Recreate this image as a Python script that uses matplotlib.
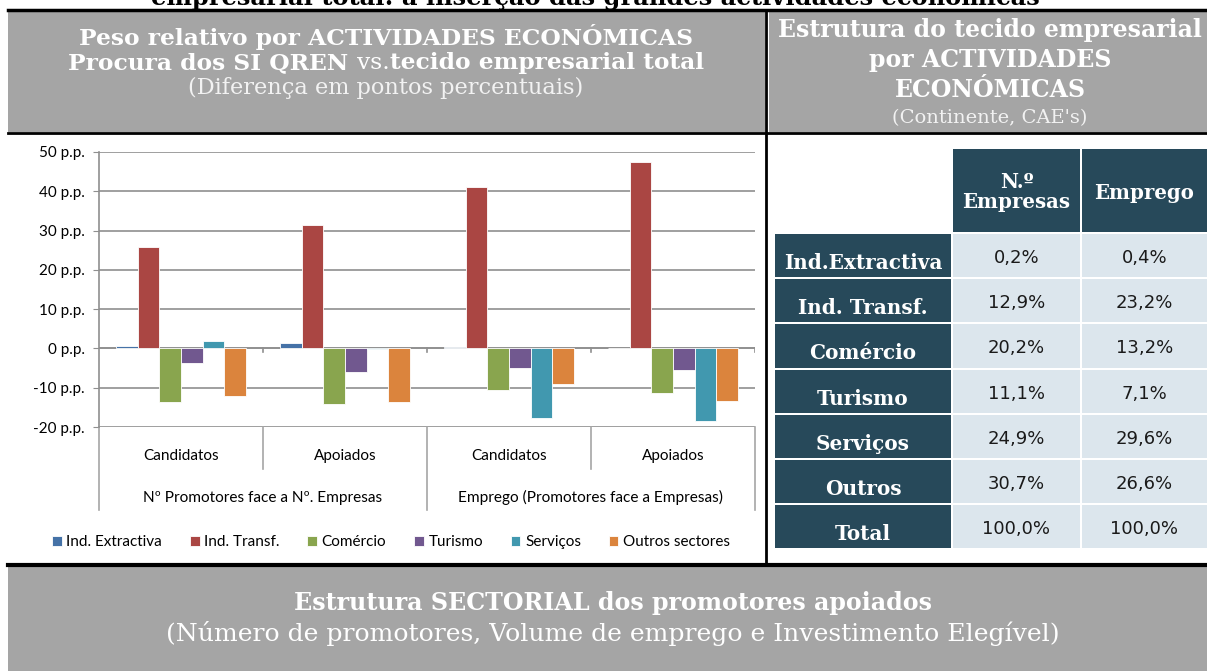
import numpy as np
import matplotlib
matplotlib.use("Agg")
import matplotlib.pyplot as plt
from matplotlib.patches import Rectangle

# dados do grafico (diferenca em pontos percentuais)
sectors = ['Ind. Extractiva', 'Ind. Transf.', 'Comércio', 'Turismo', 'Serviços', 'Outros sectores']
groups = ['Candidatos', 'Apoiados', 'Candidatos', 'Apoiados']
group_titles = ['Nº Promotores face a Nº. Empresas', 'Emprego (Promotores face a Empresas)']
ind_extractiva = [0.7, 1.3, 0.3, 0.1]
ind_transf = [25.8, 31.3, 41.0, 47.5]
comercio = [-13.6, -14.2, -10.5, -11.3]
turismo = [-3.8, -6.1, -5.1, -5.4]
servicos = [2.0, -0.2, -17.8, -18.4]
outros = [-12.2, -13.6, -9.0, -13.5]
yticks = [-20, -10, 0, 10, 20, 30, 40, 50]

# tabela (Continente, CAE's)
row_labels = ['Ind.Extractiva', 'Ind. Transf.', 'Comércio', 'Turismo', 'Serviços', 'Outros', 'Total']
col_labels = ['N.º\nEmpresas', 'Emprego']
n_empresas = ['0,2%', '12,9%', '20,2%', '11,1%', '24,9%', '30,7%', '100,0%']
emprego = ['0,4%', '23,2%', '13,2%', '7,1%', '29,6%', '26,6%', '100,0%']

colors = ['#4572A7', '#AA4643', '#89A54E', '#71588F', '#4198AF', '#DB843D']
gray = '#a5a5a5'
dark = '#27495a'
light = '#dce6ed'
serif = 'DejaVu Serif'
sans = 'Lato'

W, H = 1207, 671
fig = plt.figure(figsize=(W / 100, H / 100), dpi=100)

# camada de fundo em coordenadas de pixel
bg = fig.add_axes([0, 0, 1, 1])
bg.set_xlim(0, W)
bg.set_ylim(H, 0)
bg.axis('off')

bg.add_patch(Rectangle((8, 11), 757, 121, color=gray, lw=0))
bg.add_patch(Rectangle((769, 11), 438, 121, color=gray, lw=0))
bg.add_patch(Rectangle((8, 567), 1199, 104, color=gray, lw=0))
bg.plot([8, W], [10, 10], color='black', lw=2.5)
bg.plot([8, W], [133, 133], color='black', lw=2)
bg.plot([8, W], [565, 565], color='black', lw=3)
bg.plot([766, 766], [10, 565], color='black', lw=2)

bg.text(595, 5, 'empresarial total: a inserção das grandes actividades económicas',
        ha='center', va='baseline', fontsize=17.4, fontweight='bold', family=serif, color='black')

renderer = fig.canvas.get_renderer()


def mixed_line(parts, xc, y, size, color):
    # texto com partes a negrito e normal, centrado em xc
    texts = []
    for s, w in parts:
        t = bg.text(0, y, s, ha='left', va='baseline', fontsize=size, fontweight=w,
                    family=serif, color=color)
        texts.append(t)
    widths = [t.get_window_extent(renderer).width for t in texts]
    x = xc - sum(widths) / 2
    for t, w in zip(texts, widths):
        t.set_x(x)
        x += w


mixed_line([('Peso relativo por ACTIVIDADES ECONÓMICAS', 'bold')], 386, 45, 16.8, 'white')
mixed_line([('Procura dos SI QREN ', 'bold'), ('vs.', 'normal'),
            ('tecido empresarial total', 'bold')], 386, 69, 16.8, 'white')
mixed_line([('(Diferença em pontos percentuais)', 'normal')], 386, 94, 16.2, '#f2f2f2')

bg.text(990, 37, 'Estrutura do tecido empresarial', ha='center', va='baseline',
        fontsize=17, fontweight='bold', family=serif, color='white')
bg.text(990, 67, 'por ACTIVIDADES', ha='center', va='baseline',
        fontsize=17, fontweight='bold', family=serif, color='white')
bg.text(990, 97, 'ECONÓMICAS', ha='center', va='baseline',
        fontsize=17, fontweight='bold', family=serif, color='white')
bg.text(990, 123, "(Continente, CAE's)", ha='center', va='baseline',
        fontsize=14, family=serif, color='#f2f2f2')

bg.text(613, 610, 'Estrutura SECTORIAL dos promotores apoiados', ha='center', va='baseline',
        fontsize=17.1, fontweight='bold', family=serif, color='white')
bg.text(613, 641, '(Número de promotores, Volume de emprego e Investimento Elegível)',
        ha='center', va='baseline', fontsize=18.1, family=serif, color='white')

# tabela
x_cols = [775, 953, 1082]
w_cols = [176, 127, 125]
bg.add_patch(Rectangle((x_cols[1], 149), w_cols[1], 83, color=dark, lw=0))
bg.add_patch(Rectangle((x_cols[2], 149), w_cols[2], 83, color=dark, lw=0))
bg.text(x_cols[1] + w_cols[1] / 2, 192, col_labels[0], ha='center', va='center',
        fontsize=14.2, fontweight='bold', family=serif, color='white', linespacing=1.05)
bg.text(x_cols[2] + w_cols[2] / 2, 193, col_labels[1], ha='center', va='center',
        fontsize=14.2, fontweight='bold', family=serif, color='white')
for i, lab in enumerate(row_labels):
    y0 = 234 + i * 45.2
    bg.add_patch(Rectangle((x_cols[0], y0), w_cols[0], 43.2, color=dark, lw=0))
    bg.add_patch(Rectangle((x_cols[1], y0), w_cols[1], 43.2, color=light, lw=0))
    bg.add_patch(Rectangle((x_cols[2], y0), w_cols[2], 43.2, color=light, lw=0))
    bg.text(x_cols[0] + w_cols[0] / 2, y0 + 35, lab, ha='center', va='baseline',
            fontsize=14.4, fontweight='bold', family=serif, color='white')
    bg.text(x_cols[1] + w_cols[1] / 2, y0 + 29, n_empresas[i], ha='center', va='baseline',
            fontsize=13, family='DejaVu Sans', color='#1a1a1a')
    bg.text(x_cols[2] + w_cols[2] / 2, y0 + 29, emprego[i], ha='center', va='baseline',
            fontsize=13, family='DejaVu Sans', color='#1a1a1a')

# grafico de barras
ax = fig.add_axes([99 / W, 1 - 427 / H, 656 / W, 275 / H])
series = [ind_extractiva, ind_transf, comercio, turismo, servicos, outros]
x = np.arange(len(groups))
bw = 0.132
for i, vals in enumerate(series):
    ax.bar(x + (i - 2.5) * bw, vals, bw, color=colors[i], edgecolor='white',
           linewidth=0.6, label=sectors[i], zorder=3)

grid_c = '#8f8f8f'
ax.set_xlim(-0.5, 3.5)
ax.set_ylim(-20, 50)
ax.set_yticks(yticks)
ax.set_yticklabels(['%d p.p.' % v for v in yticks], fontsize=11, family=sans)
ax.yaxis.grid(True, color=grid_c, lw=1.2)
ax.set_axisbelow(True)
ax.set_xticks([])
ax.tick_params(axis='y', length=4, color=grid_c, pad=6)
for s in ['top', 'right', 'bottom']:
    ax.spines[s].set_visible(False)
ax.spines['left'].set_color(grid_c)
ax.spines['left'].set_linewidth(1.2)
ax.axhline(0, color=grid_c, lw=1.2, zorder=2)
for b in [0.5, 1.5, 2.5, 3.5]:
    ax.plot([b, b], [0, -1.0], color=grid_c, lw=1.2, zorder=2)

# eixo de categorias em dois niveis
tr = ax.get_xaxis_transform()
for b, low in zip([-0.5, 0.5, 1.5, 2.5, 3.5], [-0.302, -0.153, -0.302, -0.153, -0.302]):
    ax.plot([b, b], [0, low], color='#a6a6a6', lw=1.2, transform=tr, clip_on=False)
for g, lab in zip(x, groups):
    ax.text(g, -0.105, lab, transform=tr, ha='center', va='center', fontsize=11, family=sans)
for k, lab in enumerate(group_titles):
    ax.text(0.5 + 2 * k, -0.258, lab, transform=tr, ha='center', va='center',
            fontsize=11.1, family=sans)

fig.legend(loc='center', bbox_to_anchor=(391 / W, 1 - 542 / H), ncol=6, frameon=False,
           prop={'family': sans, 'size': 11}, handlelength=0.65, handleheight=0.65,
           handletextpad=0.3, columnspacing=1.8)

fig.savefig('out.png', dpi=100)
